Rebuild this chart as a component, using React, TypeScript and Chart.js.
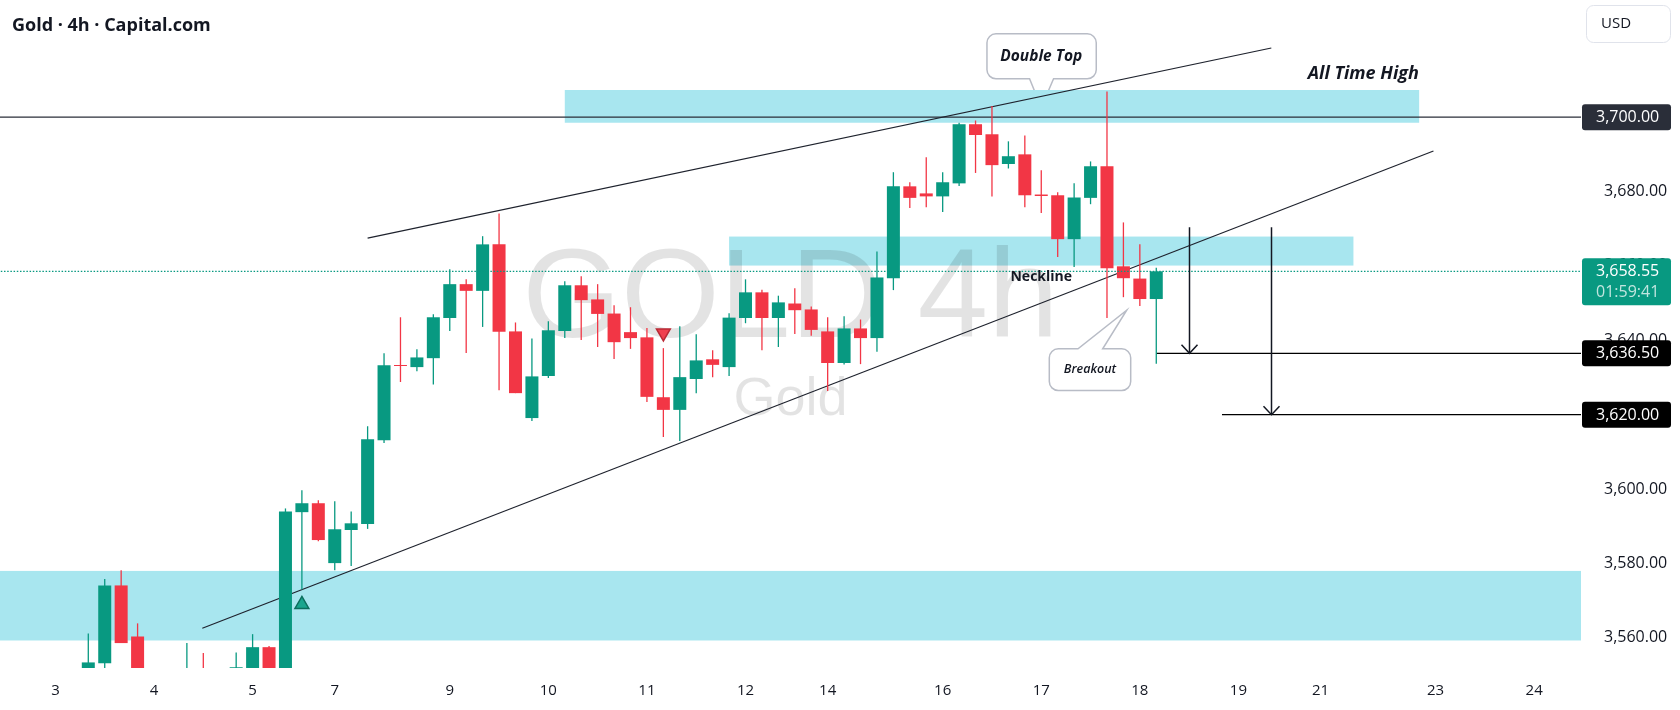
import { useEffect, useRef } from 'react';
import { Chart, registerables } from 'chart.js';

Chart.register(...registerables);

// ---- Candle data (4h bars, index 0 = first bar) ----
const opens = [3548, 3553.2, 3574.1, 3560.4, 3542, 3537, 3545, 3549, 3543, 3549, 3550, 3557.5, 3550, 3593.8, 3596.2, 3580.1, 3589.0, 3590.6, 3613.1, 3633.3, 3632.8, 3635.2, 3646.0, 3655.1, 3653.3, 3665.8, 3642.4, 3619.1, 3630.4, 3642.5, 3654.8, 3651.0, 3647.2, 3642.2, 3640.8, 3624.7, 3621.3, 3629.6, 3634.9, 3632.8, 3646.0, 3652.9, 3646.0, 3649.9, 3648.3, 3642.4, 3633.9, 3643.2, 3640.6, 3656.7, 3681.4, 3679.5, 3678.7, 3682.2, 3698.1, 3695.4, 3687.4, 3690.0, 3679.2, 3679.0, 3667.2, 3678.3, 3686.8, 3659.9, 3656.6, 3651.1];
const highs = [3561.2, 3575.8, 3578.2, 3563.9, 3548, 3549, 3558.6, 3555.9, 3550, 3556.1, 3561.0, 3557.8, 3594.8, 3599.7, 3597.0, 3596.7, 3594.0, 3616.9, 3636.5, 3646.2, 3637.6, 3647.0, 3659.1, 3656.4, 3668.0, 3674.1, 3644.8, 3640.5, 3645.1, 3655.9, 3657.2, 3655.1, 3649.4, 3648.9, 3643.3, 3637.9, 3643.8, 3641.6, 3637.3, 3647.3, 3656.4, 3653.6, 3652.0, 3654.0, 3649.1, 3646.2, 3646.5, 3645.6, 3663.9, 3685.2, 3682.5, 3689.2, 3685.2, 3698.5, 3699.1, 3703.0, 3693.5, 3695.1, 3685.7, 3679.8, 3682.2, 3688.1, 3706.9, 3671.7, 3665.8, 3659.5];
const lows = [3545, 3549, 3558.6, 3538, 3532, 3533, 3541, 3540, 3536, 3543, 3548, 3545, 3548, 3573.0, 3586.0, 3578.2, 3579.3, 3589.3, 3612.4, 3628.8, 3631.7, 3628.1, 3642.5, 3636.6, 3643.6, 3626.6, 3625.8, 3618.3, 3629.9, 3640.6, 3640.1, 3638.2, 3635.0, 3637.7, 3623.4, 3614.0, 3612.9, 3625.8, 3630.1, 3630.4, 3644.6, 3637.3, 3638.2, 3641.7, 3641.2, 3626.4, 3633.5, 3633.6, 3636.9, 3653.5, 3675.6, 3675.8, 3674.5, 3681.5, 3685.0, 3678.7, 3686.2, 3675.8, 3674.2, 3662.4, 3659.7, 3676.6, 3646.0, 3651.6, 3649.2, 3633.7];
const closes = [3553.4, 3574.1, 3558.6, 3542, 3537, 3545, 3549, 3543, 3546, 3552.1, 3557.5, 3550, 3594.0, 3596.2, 3586.3, 3589.2, 3590.8, 3613.4, 3633.3, 3633.1, 3635.4, 3646.2, 3655.1, 3653.3, 3665.8, 3642.3, 3625.8, 3630.3, 3642.7, 3654.8, 3650.8, 3647.1, 3639.5, 3640.6, 3624.8, 3621.3, 3630.1, 3634.6, 3633.4, 3646.1, 3652.9, 3646.0, 3650.2, 3648.1, 3642.8, 3633.9, 3643.2, 3640.6, 3656.9, 3681.4, 3678.3, 3678.7, 3682.5, 3698.1, 3695.2, 3687.1, 3689.5, 3679.0, 3678.8, 3667.2, 3678.4, 3686.8, 3659.4, 3656.7, 3651.1, 3658.55];

// ---- Time axis (bar index of day start) ----
const dayTickPositions = [-2, 4, 10, 15, 22, 28, 34, 40, 45, 52, 58, 64, 70, 75, 82, 88];
const dayTickLabels = ['3', '4', '5', '7', '9', '10', '11', '12', '14', '16', '17', '18', '19', '21', '23', '24'];

// ---- Price axis ----
const priceMin = 3551.9;
const priceMax = 3731.5;
const priceStep = 20;
const lastPrice = 3658.55;
const countdown = '01:59:41';
const tagPrices = [3700, 3636.5, 3620];

// ---- Zones (supply / demand boxes) ----
const zoneStart = [29, 39, -6];
const zoneEnd = [81, 77, 92];
const zoneTop = [3707.3, 3667.9, 3578.0];
const zoneBottom = [3698.5, 3660.1, 3559.3];

// ---- Horizontal levels ----
const levelPrices = [3700, 3636.5, 3620];
const levelStarts = [-6, 65, 69];

// ---- Trend lines ----
const trendX1 = [17, 6.94];
const trendY1 = [3667.5, 3562.6];
const trendX2 = [72, 81.87];
const trendY2 = [3718.6, 3690.9];

// ---- Target arrows ----
const arrowX = [67, 72];
const arrowFrom = [3670.4, 3670.4];
const arrowTo = [3636.5, 3620];

// ---- Signal markers ----
const markerX = [13, 35];
const markerY = [3569.0, 3642.0];
const markerRotation = [0, 180];

// ---- Text annotations ----
const doubleTopTip = { x: 58, y: 3702.6 };
const breakoutTip = { x: 63.2, y: 3648.1 };
const athAnchor = { x: 77.6, y: 3711.7 };
const necklineAnchor = { x: 58.0, y: 3656.9 };

const GREEN = '#089981';
const RED = '#f23645';
const INK = '#131722';
const ZONE = '#a8e6ef';
const FONT = "'Open Sans', sans-serif";

function roundRect(ctx: CanvasRenderingContext2D, x: number, y: number, w: number, h: number, r: number) {
  ctx.beginPath();
  ctx.moveTo(x + r, y);
  ctx.lineTo(x + w - r, y);
  ctx.arcTo(x + w, y, x + w, y + r, r);
  ctx.lineTo(x + w, y + h - r);
  ctx.arcTo(x + w, y + h, x + w - r, y + h, r);
  ctx.lineTo(x + r, y + h);
  ctx.arcTo(x, y + h, x, y + h - r, r);
  ctx.lineTo(x, y + r);
  ctx.arcTo(x, y, x + r, y, r);
  ctx.closePath();
}

function calloutPath(
  ctx: CanvasRenderingContext2D,
  tx: number, ty: number,
  x1: number, y1: number, x2: number, y2: number,
  b1: number, b2: number, pointerBottom: boolean, r: number
) {
  ctx.beginPath();
  ctx.moveTo(x1 + r, y1);
  if (!pointerBottom) {
    ctx.lineTo(b1, y1);
    ctx.lineTo(tx, ty);
    ctx.lineTo(b2, y1);
  }
  ctx.lineTo(x2 - r, y1);
  ctx.arcTo(x2, y1, x2, y1 + r, r);
  ctx.lineTo(x2, y2 - r);
  ctx.arcTo(x2, y2, x2 - r, y2, r);
  if (pointerBottom) {
    ctx.lineTo(b2, y2);
    ctx.lineTo(tx, ty);
    ctx.lineTo(b1, y2);
  }
  ctx.lineTo(x1 + r, y2);
  ctx.arcTo(x1, y2, x1, y2 - r, r);
  ctx.lineTo(x1, y1 + r);
  ctx.arcTo(x1, y1, x1 + r, y1, r);
  ctx.closePath();
}

const fmt = (v: number) => v.toLocaleString('en-US', { minimumFractionDigits: 2, maximumFractionDigits: 2 });

const zeroPad = (s: any) => {
  s.paddingTop = 0;
  s.paddingBottom = 0;
  s.paddingLeft = 0;
  s.paddingRight = 0;
};

const overlayPlugin = {
  id: 'overlay',
  beforeDatasetsDraw(chart: any) {
    const { ctx, chartArea: a, scales } = chart;
    const xs = scales.x, ys = scales.y;
    ctx.save();
    ctx.beginPath();
    ctx.rect(a.left, a.top, a.right - a.left, a.bottom - a.top);
    ctx.clip();

    // callouts (behind zones)
    const dtx = xs.getPixelForValue(doubleTopTip.x), dty = ys.getPixelForValue(doubleTopTip.y);
    calloutPath(ctx, dtx, dty, dtx - 54.3, dty - 73.7, dtx + 55, dty - 28.7, dtx - 11.7, dtx + 12.3, true, 9);
    ctx.fillStyle = '#ffffff';
    ctx.fill();
    ctx.strokeStyle = '#b8bcc6';
    ctx.lineWidth = 1.5;
    ctx.stroke();
    ctx.fillStyle = INK;
    ctx.font = `italic bold 15.5px ${FONT}`;
    ctx.textAlign = 'center';
    ctx.textBaseline = 'middle';
    ctx.fillText('Double Top', dtx, dty - 51);

    const bkx = xs.getPixelForValue(breakoutTip.x), bky = ys.getPixelForValue(breakoutTip.y);
    calloutPath(ctx, bkx, bky, bkx - 77.4, bky + 38.6, bkx + 4, bky + 80.3, bkx - 48.7, bkx - 24, false, 9);
    ctx.fillStyle = '#ffffff';
    ctx.fill();
    ctx.strokeStyle = '#b8bcc6';
    ctx.lineWidth = 1.5;
    ctx.stroke();
    ctx.fillStyle = INK;
    ctx.font = `italic 600 12.5px ${FONT}`;
    ctx.fillText('Breakout', bkx - 36.7, bky + 59.5);

    // zones
    ctx.fillStyle = ZONE;
    zoneStart.forEach((s, i) => {
      const x1 = xs.getPixelForValue(s), x2 = xs.getPixelForValue(zoneEnd[i]);
      const y1 = ys.getPixelForValue(zoneTop[i]), y2 = ys.getPixelForValue(zoneBottom[i]);
      ctx.fillRect(x1, y1, x2 - x1, y2 - y1);
    });

    // watermark
    const cx = (a.left + a.right) / 2;
    const cy = (a.top + a.bottom) / 2;
    ctx.fillStyle = 'rgba(0,0,0,0.11)';
    ctx.textAlign = 'center';
    ctx.textBaseline = 'alphabetic';
    ctx.font = `127px 'Liberation Sans', Arial, sans-serif`;
    ctx.fillText('GOLD 4h', cx, cy + 3);
    ctx.font = `54px 'Liberation Sans', Arial, sans-serif`;
    ctx.fillText('Gold', cx, cy + 81);
    ctx.restore();
  },
  afterDatasetsDraw(chart: any) {
    const { ctx, chartArea: a, scales } = chart;
    const xs = scales.x, ys = scales.y;
    ctx.save();
    ctx.beginPath();
    ctx.rect(a.left, a.top, a.right - a.left, a.bottom - a.top);
    ctx.clip();
    // arrows
    ctx.strokeStyle = INK;
    ctx.lineWidth = 1.5;
    arrowX.forEach((ax, i) => {
      const px = Math.round(xs.getPixelForValue(ax)) + 0.5;
      const p1 = ys.getPixelForValue(arrowFrom[i]);
      const p2 = ys.getPixelForValue(arrowTo[i]);
      ctx.beginPath();
      ctx.moveTo(px, p1);
      ctx.lineTo(px, p2);
      ctx.stroke();
      ctx.beginPath();
      ctx.moveTo(px - 8, p2 - 8.5);
      ctx.lineTo(px, p2);
      ctx.lineTo(px + 8, p2 - 8.5);
      ctx.stroke();
    });
    // texts
    ctx.fillStyle = INK;
    ctx.textAlign = 'center';
    ctx.textBaseline = 'middle';
    ctx.font = `italic bold 18px ${FONT}`;
    ctx.fillText('All Time High', xs.getPixelForValue(athAnchor.x), ys.getPixelForValue(athAnchor.y));
    ctx.font = `bold 14px ${FONT}`;
    ctx.fillText('Neckline', xs.getPixelForValue(necklineAnchor.x), ys.getPixelForValue(necklineAnchor.y));
    ctx.restore();
  },
  afterDraw(chart: any) {
    const { ctx, chartArea: a, scales } = chart;
    const ys = scales.y;
    ctx.save();
    const bx = a.right + 1;
    const bw = 89;
    const tx = a.right + 15;
    ctx.textAlign = 'left';
    ctx.textBaseline = 'middle';
    ctx.font = `16px ${FONT}`;
    // last price tag
    const ly = ys.getPixelForValue(lastPrice);
    roundRect(ctx, bx, ly - 13, bw, 47, 3);
    ctx.fillStyle = GREEN;
    ctx.fill();
    ctx.fillStyle = '#ffffff';
    ctx.fillText(fmt(lastPrice), tx, ly);
    ctx.fillStyle = 'rgba(255,255,255,0.75)';
    ctx.fillText(countdown, tx, ly + 21);
    // level tags
    tagPrices.forEach((p, i) => {
      const py = ys.getPixelForValue(p);
      roundRect(ctx, bx, py - 13, bw, 26, 3);
      ctx.fillStyle = i === 0 ? '#2a2e39' : '#000000';
      ctx.fill();
      ctx.fillStyle = '#ffffff';
      ctx.fillText(fmt(p), tx, py + 0.5);
    });
    // currency button
    roundRect(ctx, a.right + 5.5, 5.5, 84, 37, 7);
    ctx.fillStyle = '#ffffff';
    ctx.fill();
    ctx.strokeStyle = '#e0e3eb';
    ctx.lineWidth = 1;
    ctx.stroke();
    ctx.fillStyle = INK;
    ctx.font = `15px ${FONT}`;
    ctx.fillText('USD', a.right + 20, 24);
    // title
    ctx.font = `bold 18px ${FONT}`;
    ctx.textBaseline = 'alphabetic';
    ctx.fillText('Gold · 4h · Capital.com', 12, 31);
    ctx.restore();
  },
};

export default function App() {
  const ref = useRef<HTMLCanvasElement | null>(null);
  useEffect(() => {
    document.body.style.margin = '0';
    const canvas = ref.current;
    if (!canvas) return;
    const idx = opens.map((_, i) => i);
    const colors = idx.map((i) => (closes[i] >= opens[i] ? GREEN : RED));
    const lineDs = (pts: { x: number; y: number }[], color: string, width: number, dash: number[] = []) => ({
      type: 'line' as const,
      data: pts,
      borderColor: color,
      borderWidth: width,
      borderDash: dash,
      pointRadius: 0,
      fill: false,
      tension: 0,
    });
    const datasets: any[] = [
      {
        type: 'scatter',
        data: markerX.map((x, i) => ({ x, y: markerY[i] })),
        pointStyle: 'triangle',
        pointRadius: 8,
        pointRotation: markerRotation,
        backgroundColor: ['#1aa58e', '#f0404f'],
        borderColor: ['#0b6e5d', '#b92a36'],
        borderWidth: 1.5,
      },
      lineDs([{ x: -10, y: lastPrice }, { x: 100, y: lastPrice }], GREEN, 1.3, [1.5, 1.7]),
      {
        type: 'bar',
        data: idx.map((i) => ({ x: i, y: [opens[i], closes[i]] })),
        backgroundColor: colors,
        barThickness: 13,
        grouped: false,
        minBarLength: 1,
        inflateAmount: 0,
      },
      {
        type: 'bar',
        data: idx.map((i) => ({ x: i, y: [lows[i], highs[i]] })),
        backgroundColor: colors,
        barThickness: 1.3,
        grouped: false,
        inflateAmount: 0,
      },
      ...trendX1.map((x1, i) =>
        lineDs([{ x: x1, y: trendY1[i] }, { x: trendX2[i], y: trendY2[i] }], '#1e222d', 1.2)
      ),
      ...levelPrices.map((p, i) =>
        lineDs([{ x: levelStarts[i], y: p }, { x: 100, y: p }], i === 0 ? '#2a2e39' : '#000000', 1.2)
      ),
    ];

    const chart = new Chart(canvas, {
      type: 'bar',
      data: { datasets },
      options: {
        responsive: false,
        animation: false,
        events: [],
        layout: { padding: 0, autoPadding: false },
        plugins: { legend: { display: false }, tooltip: { enabled: false } },
        scales: {
          x: {
            type: 'linear',
            min: -5.374,
            max: 90.85,
            offset: false,
            grid: { display: false },
            border: { display: false },
            afterFit: (s: any) => { s.height = 42; zeroPad(s); },
            afterBuildTicks: (s: any) => { s.ticks = dayTickPositions.map((v) => ({ value: v })); },
            ticks: {
              autoSkip: false,
              maxRotation: 0,
              padding: 6,
              color: INK,
              font: { family: FONT, size: 15 },
              callback: (_v: any, i: number) => dayTickLabels[i],
            },
          },
          y: {
            type: 'linear',
            position: 'right',
            min: priceMin,
            max: priceMax,
            grid: { display: false },
            border: { display: false },
            afterFit: (s: any) => { s.width = 99; zeroPad(s); },
            ticks: {
              stepSize: priceStep,
              includeBounds: false,
              padding: 15,
              color: INK,
              font: { family: FONT, size: 16 },
              callback: (v: any) => (Number(v) > 3700 ? '' : fmt(Number(v))),
            },
          },
        },
      } as any,
      plugins: [overlayPlugin],
    });
    return () => chart.destroy();
  }, []);

  return (
    <div style={{ width: 1680, height: 710 }}>
      <canvas ref={ref} width={1680} height={710} style={{ display: 'block', width: 1680, height: 710 }} />
    </div>
  );
}
